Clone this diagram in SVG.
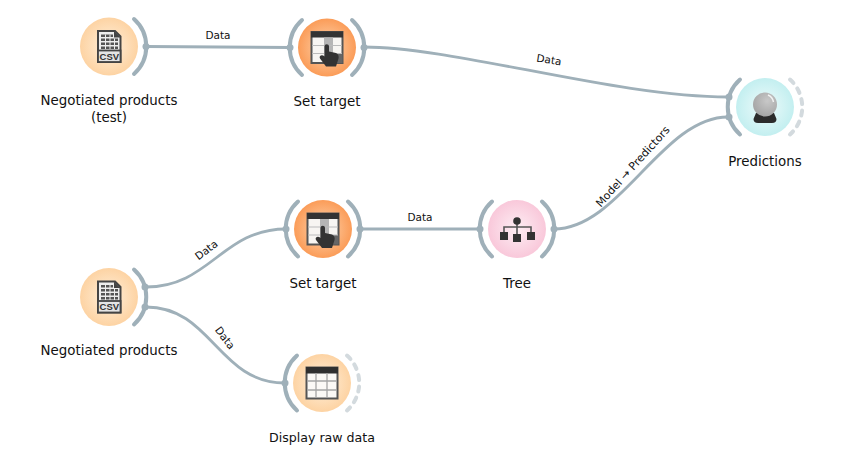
<svg xmlns="http://www.w3.org/2000/svg" width="845" height="454" viewBox="0 0 845 454">
<style>
text{font-family:"DejaVu Sans",Verdana,sans-serif;fill:#111}
.lbl{font-size:13.4px;text-anchor:middle}
.edge{font-size:10.5px;text-anchor:middle}
.c{fill:none;stroke:#9fb0b9;stroke-width:2.8}
.on{fill:none;stroke:#9fb0b9;stroke-width:4;stroke-linecap:round}
.off{fill:none;stroke:#d3dade;stroke-width:4;stroke-linecap:round;stroke-dasharray:5 6.5}
.dot{fill:#9fb0b9}
.ink{fill:#333}
</style>
<defs>
<radialGradient id="gy"><stop offset="0" stop-color="#fff0dc"/><stop offset="1" stop-color="#fdd3a3"/></radialGradient>
<radialGradient id="go"><stop offset="0" stop-color="#fdd5b0"/><stop offset="1" stop-color="#fb9c58"/></radialGradient>
<radialGradient id="gp"><stop offset="0" stop-color="#fdeef4"/><stop offset="1" stop-color="#f9c8da"/></radialGradient>
<radialGradient id="gc"><stop offset="0" stop-color="#effbfb"/><stop offset="1" stop-color="#c3eff0"/></radialGradient>
<radialGradient id="ball" cx=".6" cy=".35" r=".75"><stop offset="0" stop-color="#c8c8c8"/><stop offset="1" stop-color="#a0a0a0"/></radialGradient>
<path id="la" class="on" d="M-25-27.500A37 37 0 0 0-25 27.500"/>
<path id="ra" class="on" d="M25-27.500A37 37 0 0 1 25 27.500"/>
<path id="rd" class="off" d="M25-27.500A37 37 0 0 1 25 27.500"/>
<g id="csv">
<path d="M-11-15.500H6L11.500-10V15.500H-11Z" fill="#eee" stroke="#444" stroke-width="2"/>
<path d="M5-15.500V-9H11.500Z" fill="#444"/>
<path d="M-8-12H4V-9.500H-8ZM-8-8H9V-5.500H-8ZM-8-4H9V-1.500H-8ZM-8 0H9V2.500H-8Z" fill="#555"/>
<path d="M-3.500-12V3M1-12V3M5.500-8V3" stroke="#eee" stroke-width="1"/>
<rect x="-11" y="4" width="22.500" height="11.500" fill="#e4e4e4" stroke="#444" stroke-width="1.800"/>
<text x=".3" y="13.300" font-size="9.500" font-weight="bold" text-anchor="middle" style="font-family:'Liberation Sans',sans-serif;fill:#333">CSV</text>
</g>
<g id="tbl">
<rect x="-15.500" y="-15.500" width="31" height="31" fill="#fbf9f6" stroke="#555" stroke-width="2"/>
<rect x="-16" y="-16" width="32" height="6.500" fill="#2f2f2f"/>
<path d="M-15-2H15M-15 7H15M-6-10V15M5-10V15" stroke="#a5a5a5" stroke-width="1.300" fill="none"/>
</g>
<g id="hand">
<rect x="-15.500" y="-15.500" width="31" height="31" fill="#f7f5f2" stroke="#555" stroke-width="2"/>
<rect x="-16" y="-16" width="32" height="6" fill="#333"/>
<rect x="-3" y="-10" width="9" height="25" fill="#b5b5b5"/>
<rect x="6" y="6" width="9.500" height="9.500" fill="#666"/>
<path d="M-15-2H15M-15 6H15" stroke="#bbb" stroke-width="1.200" fill="none"/>
<path d="M-2.500-1C-2.500-4 2-4 2-1V4L9 5.500C11.500 6.500 12 9 11.500 11L9 19H-1L-7 11C-8.500 8.500-5 6.500-2.500 9Z" fill="#333"/>
</g>
</defs>

<g id="connectors">
<path class="c" d="M146 46.500C200 46.500 236 47.500 290 47.500"/>
<path class="c" d="M364 47C455 47 615 97 728 97"/>
<path class="c" d="M554 229C620 229 662 117 728 117"/>
<path class="c" d="M146 287C210 287 222 229 286 229"/>
<path class="c" d="M146 307C212 307 218 383 285 383"/>
<path class="c" d="M360 229H480"/>
<text class="edge" x="218" y="38.500">Data</text>
<text class="edge" transform="translate(548.500 63.500) rotate(9)">Data</text>
<text class="edge" transform="translate(208.500 253) rotate(-37)">Data</text>
<text class="edge" transform="translate(222 340) rotate(53)">Data</text>
<text class="edge" x="420" y="220.500">Data</text>
<text class="edge" style="font-size:11px" transform="translate(635.500 169) rotate(-48)">Model → Predictors</text>
</g>

<g id="node-test" transform="translate(109 46.500)">
<circle r="29" fill="url(#gy)"/><use href="#csv"/><use href="#ra"/><circle class="dot" cx="37" r="3.500"/>
<text class="lbl" y="58">Negotiated products</text><text class="lbl" y="75">(test)</text>
</g>
<g id="node-settarget1" transform="translate(327 47.500)">
<circle r="29" fill="url(#go)"/><use href="#hand"/><use href="#la"/><use href="#ra"/><circle class="dot" cx="-37" r="3.500"/><circle class="dot" cx="37" r="3.500"/>
<text class="lbl" y="58.500">Set target</text>
</g>
<g id="node-predictions" transform="translate(765 107)">
<circle r="29" fill="url(#gc)"/>
<path d="M-9 6H9L11.500 12Q11.500 16 7 16H-7Q-11.500 16-11.500 12Z" fill="#2b2b2b"/>
<circle cy="-2.500" r="12" fill="url(#ball)"/><path d="M3-12A9.500 9.500 0 0 1 8.500-5" fill="none" stroke="#f2f2f2" stroke-width="1.500"/>
<use href="#la"/><use href="#rd"/><circle class="dot" cx="-36" cy="-10" r="3.500"/><circle class="dot" cx="-36" cy="10" r="3.500"/>
<text class="lbl" y="58.500">Predictions</text>
</g>
<g id="node-settarget2" transform="translate(323 229)">
<circle r="29" fill="url(#go)"/><use href="#hand"/><use href="#la"/><use href="#ra"/><circle class="dot" cx="-37" r="3.500"/><circle class="dot" cx="37" r="3.500"/>
<text class="lbl" y="58.500">Set target</text>
</g>
<g id="node-tree" transform="translate(517 229)">
<circle r="29" fill="url(#gp)"/>
<path d="M0-8V5M-13 3V-2H14V3" fill="none" stroke="#555" stroke-width="1.600"/>
<circle cy="-8" r="3.800" class="ink"/>
<rect x="-17" y="3" width="8" height="8" class="ink"/><rect x="-4" y="5" width="8" height="8" class="ink"/><rect x="10" y="3" width="8" height="8" class="ink"/>
<use href="#la"/><use href="#ra"/><circle class="dot" cx="-37" r="3.500"/><circle class="dot" cx="37" r="3.500"/>
<text class="lbl" y="58.500">Tree</text>
</g>
<g id="node-products" transform="translate(109 297)">
<circle r="29" fill="url(#gy)"/><use href="#csv"/><use href="#ra"/><circle class="dot" cx="36" cy="-10" r="3.500"/><circle class="dot" cx="36" cy="10" r="3.500"/>
<text class="lbl" y="58">Negotiated products</text>
</g>
<g id="node-display" transform="translate(322 383)">
<circle r="29" fill="url(#gy)"/><use href="#tbl"/><use href="#la"/><use href="#rd"/><circle class="dot" cx="-37" r="3.500"/>
<text class="lbl" style="font-size:12.6px" y="58.500">Display raw data</text>
</g>
</svg>
